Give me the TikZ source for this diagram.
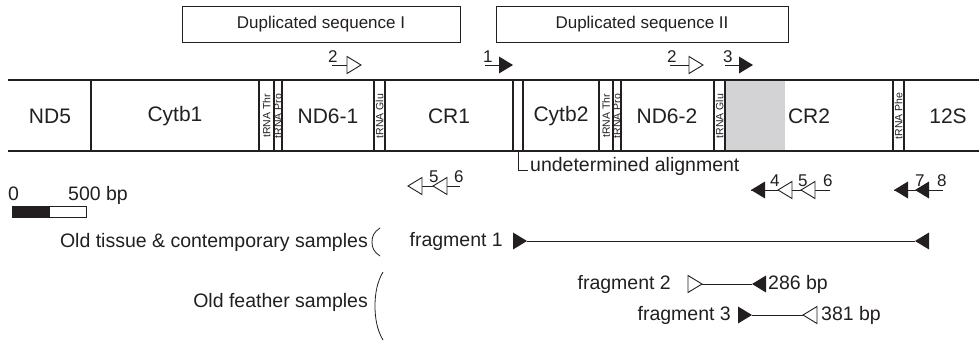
\documentclass[tikz,border=0pt]{standalone}
\usepackage{fontspec}
\setmainfont{Liberation Sans}
\definecolor{ink}{RGB}{35,31,32}
\definecolor{greyfill}{RGB}{211,211,213}
\tikzset{
  oright/.pic={\draw[ink, line width=0.9pt, fill=white, line join=miter] (0,0) -- (-14,-8.5) -- (-14,8.5) -- cycle;},
  fright/.pic={\fill[ink] (0,0) -- (-14,-8.5) -- (-14,8.5) -- cycle;},
  oleft/.pic={\draw[ink, line width=0.9pt, fill=white, line join=miter] (0,0) -- (14,-8.5) -- (14,8.5) -- cycle;},
  fleft/.pic={\fill[ink] (0,0) -- (14,-8.5) -- (14,8.5) -- cycle;},
}
\begin{document}
\begin{tikzpicture}[x=1pt,y=-1pt,
  every node/.style={text=ink, inner sep=0pt},
  gene/.style={font=\fontsize{21}{21}\selectfont},
  lab/.style={font=\fontsize{19.5}{19.5}\selectfont},
  duplab/.style={font=\fontsize{17}{17}\selectfont},
  num/.style={font=\fontsize{17}{17}\selectfont, anchor=south west},
  trna/.style={font=\fontsize{10.5}{10.5}\selectfont, rotate=90},
  barline/.style={draw=ink, line width=1.4pt},
  thinline/.style={draw=ink, line width=0.9pt},
  dupbox/.style={draw=ink, line width=1pt, fill=white}]
\useasboundingbox (0,0) rectangle (979,343);

% duplicated sequence boxes
\draw[dupbox] (182,6) rectangle (460,42);
\node[duplab] (dup1) at (321,24) {Duplicated sequence I};
\draw[dupbox] (496,6) rectangle (788,42);
\node[duplab] (dup2) at (642,24) {Duplicated sequence II};

% upper primers
\draw[thinline] (332,65) -- (347,65); \pic at (361,65) {oright};
\node[num] (p2a) at (328,63) {2};
\draw[thinline] (485,65) -- (500,65); \pic at (513,65) {fright};
\node[num] (p1) at (483,63) {1};
\draw[thinline] (670,65) -- (690,65); \pic at (703,65) {oright};
\node[num] (p2b) at (667,63) {2};
\draw[thinline] (725,65) -- (740,65); \pic at (753,65) {fright};
\node[num] (p3) at (723,63) {3};

% gene bar
\fill[greyfill] (725,80) rectangle (785,151);
\draw[barline] (8,80) -- (979,80);
\draw[barline] (8,151) -- (979,151);
\foreach \xx in {91,259,274,282,374,385,513,523,599,613,621,714,725,893,904}
  \draw[barline] (\xx,80) -- (\xx,151);

\node[gene] (nd5) at (50,116) {ND5};
\node[gene] (cytb1) at (175,116) {Cytb1};
\node[gene] (nd61) at (328,116) {ND6-1};
\node[gene] (cr1) at (449,116) {CR1};
\node[gene] (cytb2) at (561,116) {Cytb2};
\node[gene] (nd62) at (667,116) {ND6-2};
\node[gene] (cr2) at (809,116) {CR2};
\node[gene] (s12) at (948,116) {12S};

\node[trna] (thr1) at (266.5,116) {tRNA Thr};
\node[trna] (pro1) at (278,116) {tRNA Pro};
\node[trna] (glu1) at (379.5,116) {tRNA Glu};
\node[trna] (thr2) at (606,116) {tRNA Thr};
\node[trna] (pro2) at (617,116) {tRNA Pro};
\node[trna] (glu2) at (719.5,116) {tRNA Glu};
\node[trna] (phe) at (898.5,116) {tRNA Phe};

% undetermined alignment
\coordinate (ua0) at (518,151);
\coordinate (ua1) at (518,170);
\node[lab, anchor=base west] (ua) at (530,171) {undetermined alignment};
\draw[thinline] (ua0) -- (ua1) -- (528,170);

% lower primers
\draw[thinline] (408,186) -- (460,186);
\pic at (408,186) {oleft}; \pic at (433,186) {oleft};
\node[num] (p5a) at (429,183) {5};
\node[num] (p6a) at (454,183) {6};

\draw[thinline] (751,190) -- (830,190);
\pic at (751,190) {fleft}; \pic at (778,190) {oleft}; \pic at (801,190) {oleft};
\node[num] (p4) at (770,187) {4};
\node[num] (p5b) at (798,187) {5};
\node[num] (p6b) at (823,187) {6};

\draw[thinline] (894,190) -- (943,190);
\pic at (894,190) {fleft}; \pic at (915,190) {fleft};
\node[num] (p7) at (915,187) {7};
\node[num] (p8) at (937,187) {8};

% scale bar
\node[lab, anchor=base west] (s0) at (8,200) {0};
\node[lab, anchor=base west] (s500) at (68,200) {500 bp};
\fill[ink] (12,206) rectangle (50,217);
\draw[ink, line width=1pt] (12,206) rectangle (86,217);

% sample groups
\node[lab, anchor=east] (old1) at (368,242) {Old tissue \& contemporary samples};
\draw[ink, line width=0.8pt] (380,228) .. controls (374,232) and (372,236) .. (372,242) .. controls (372,248) and (374,252) .. (380,256);
\node[lab, anchor=east] (old2) at (368,302) {Old feather samples};
\draw[ink, line width=0.8pt] (383,272) .. controls (377,282) and (375,294) .. (375,306) .. controls (375,318) and (377,330) .. (383,340);

% fragments
\node[lab, anchor=east] (f1) at (503,241) {fragment 1};
\coordinate (f1a) at (527,241); \coordinate (f1b) at (915,241);
\draw[thinline] (f1a) -- (f1b);
\pic at (f1a) {fright}; \pic at (f1b) {fleft};

\node[lab, anchor=east] (f2) at (671,284) {fragment 2};
\coordinate (f2a) at (702,284); \coordinate (f2b) at (752,284);
\draw[thinline] (f2a) -- (f2b);
\pic at (f2a) {oright}; \pic at (f2b) {fleft};
\node[lab, anchor=west] (bp286) at (768,284) {286 bp};

\node[lab, anchor=east] (f3) at (731,315) {fragment 3};
\coordinate (f3a) at (752,315); \coordinate (f3b) at (803,315);
\draw[thinline] (f3a) -- (f3b);
\pic at (f3a) {fright}; \pic at (f3b) {oleft};
\node[lab, anchor=west] (bp381) at (821,315) {381 bp};
\end{tikzpicture}
\end{document}
